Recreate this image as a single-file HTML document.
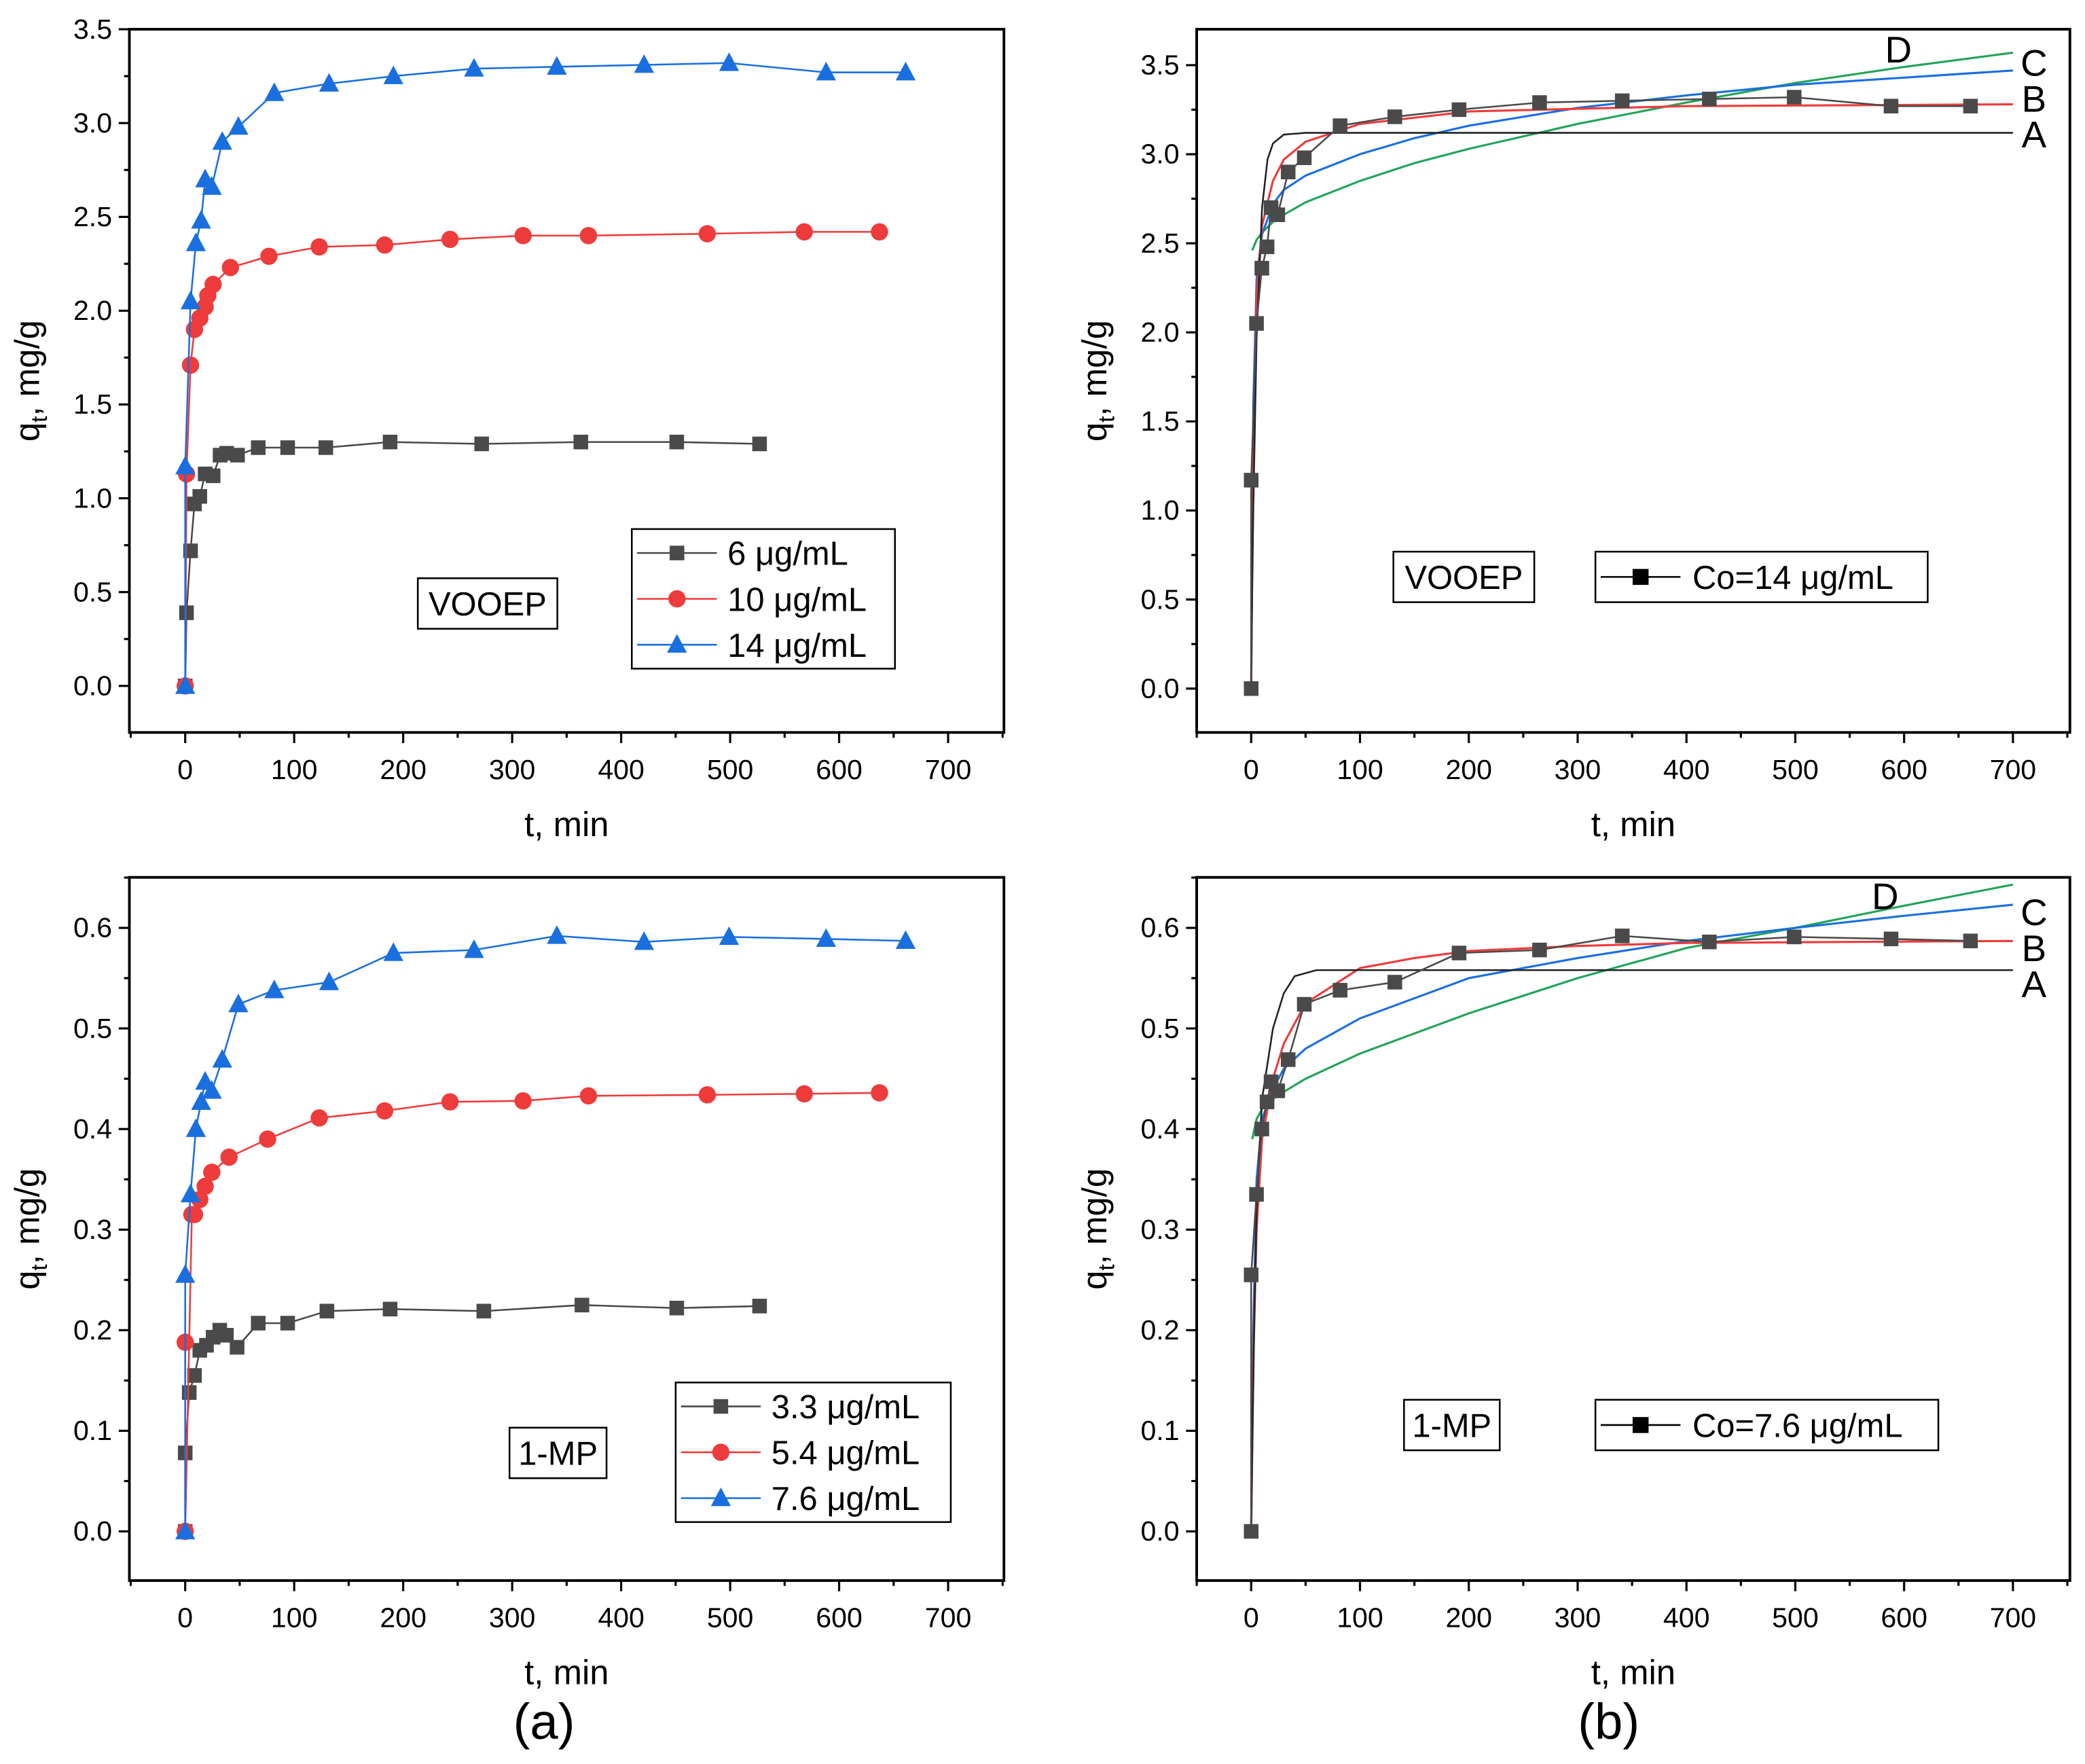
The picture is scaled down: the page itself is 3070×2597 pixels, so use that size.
<!DOCTYPE html>
<html><head><meta charset="utf-8"><style>
html,body{margin:0;padding:0;background:#fff}
svg{display:block;font-family:"Liberation Sans",Arial,sans-serif}
</style></head><body>
<svg id="fig" width="3070" height="2597" viewBox="0 0 1568 1327" xmlns="http://www.w3.org/2000/svg">
<rect width="1568" height="1327" fill="#fff"/>
</svg>
<script>
// ---- data: panel a top (VOOEP) ----
const tA_black=[0,1.2,4.9,8.5,13.4,18.3,25.6,32,38,48,67,94,129,188,272,363,451,527];
const qA_black=[0,0.39,0.72,0.97,1.01,1.13,1.12,1.23,1.24,1.23,1.27,1.27,1.27,1.30,1.29,1.30,1.30,1.29];
const tA_red=[0,1.2,4.9,8.5,13.4,18.3,20.7,25.6,41.5,76.8,123,183,243,310,370,479,568,637];
const qA_red=[0,1.13,1.71,1.90,1.96,2.02,2.08,2.14,2.23,2.29,2.34,2.35,2.38,2.40,2.40,2.41,2.42,2.42];
const tA_blue=[0,0,4.9,9.8,14.6,18.3,24.4,34,48.8,81.7,132,191,265,341,421,499,588,661];
const qA_blue=[0,1.17,2.05,2.36,2.48,2.70,2.66,2.90,2.98,3.16,3.21,3.25,3.29,3.30,3.31,3.32,3.27,3.27];
// ---- panel a bottom (1-MP) ----
const tB_black=[0,0,3.7,8.5,13.4,19.5,25.6,31.7,37.8,47.6,67,94,130,188,274,364,451,527];
const qB_black=[0,0.078,0.138,0.155,0.18,0.185,0.193,0.20,0.195,0.183,0.207,0.207,0.219,0.221,0.219,0.225,0.222,0.224];
const tB_red=[0,0,6.1,8.5,13.4,18.3,24.4,40.2,75.6,123,183,243,310,370,479,568,637];
const qB_red=[0.188,0,0.315,0.315,0.33,0.343,0.357,0.372,0.39,0.411,0.418,0.427,0.428,0.433,0.434,0.435,0.436];
const tB_blue=[0,0,4.9,9.8,14.6,18.3,24.4,34,48.8,81.7,132,191,265,341,421,499,588,661];
const qB_blue=[0,0.255,0.335,0.40,0.427,0.447,0.438,0.469,0.524,0.538,0.546,0.575,0.578,0.592,0.586,0.591,0.589,0.587];
// ---- model curves ----
const tM_A1=[0,1,2,5,10,15,20,30,50,700];
const qM_A1=[0,0.57,1.03,1.97,2.70,2.97,3.06,3.11,3.12,3.12];
const tM_B1=[0,1,5,10,20,30,50,100,200,400,700];
const qM_B1=[0,1.0,2.2,2.6,2.85,2.97,3.07,3.17,3.24,3.27,3.28];
const tM_C1=[0,2,5,10,20,30,50,100,150,200,300,400,500,600,700];
const qM_C1=[0,1.6,2.3,2.55,2.72,2.80,2.88,3.0,3.09,3.16,3.26,3.33,3.39,3.43,3.47];
const tM_D1=[1,5,10,20,30,50,100,150,200,300,400,500,600,700];
const qM_D1=[2.46,2.52,2.56,2.62,2.66,2.73,2.85,2.95,3.03,3.17,3.29,3.40,3.49,3.57];
const tM_A2=[0,1,3,5,10,20,30,40,60,700];
const qM_A2=[0,0.08,0.22,0.32,0.43,0.50,0.535,0.552,0.558,0.558];
const tM_B2=[0,2,5,10,20,30,50,100,150,200,300,400,700];
const qM_B2=[0,0.17,0.30,0.39,0.45,0.485,0.525,0.56,0.57,0.577,0.582,0.585,0.587];
const tM_C2=[0,2,5,10,20,30,50,100,150,200,300,400,500,600,700];
const qM_C2=[0,0.2,0.35,0.41,0.44,0.46,0.48,0.51,0.53,0.55,0.57,0.587,0.60,0.612,0.623];
const tM_D2=[1,5,10,20,30,50,100,150,200,300,400,500,600,700];
const qM_D2=[0.39,0.41,0.42,0.43,0.437,0.45,0.475,0.495,0.515,0.55,0.58,0.60,0.622,0.643];
const xTicks=[0,100,200,300,400,500,600,700];
const yTicksTop=["0.0","0.5","1.0","1.5","2.0","2.5","3.0","3.5"];
const yTicksBot=["0.0","0.1","0.2","0.3","0.4","0.5","0.6"];

const NS="http://www.w3.org/2000/svg";
const svg=document.getElementById('fig');
function mk(tag,attrs,parent){const e=document.createElementNS(NS,tag);for(const k in attrs)e.setAttribute(k,attrs[k]);(parent||svg).appendChild(e);return e;}
const BLK="#4a4a4a",RED="#ee3b3b",BLU="#1a6fdf",GRN="#22a45a";

function panel(name,L,R,T,B,x0px,y0px,yTopVal,yTopPx,yLabels,yStep){
  const g=mk('g',{});
  
  
  const sx=v=>x0px+v*(713-139)/700*((R-L)/(755-97));
  const sy=v=>y0px-(v/yTopVal)*(y0px-yTopPx);
  const r=mk('rect',{x:L,y:T,width:R-L,height:B-T,fill:'none',stroke:'#000','stroke-width':2},g);
  
  for(let v=-50;v<=750;v+=50){const px=sx(v);if(px<L-0.5||px>R+0.5)continue;const major=v%100===0;
    mk('line',{x1:px,y1:B,x2:px,y2:B+(major?8:4),stroke:'#000','stroke-width':1.6},g);}
  xTicks.forEach(v=>{const t=mk('text',{x:sx(v),y:B+35,'font-size':21,'text-anchor':'middle'},g);t.textContent=v;
    });
  yLabels.forEach((lab,i)=>{const v=i*yStep;const py=sy(v);
    mk('line',{x1:L,y1:py,x2:L-8,y2:py,stroke:'#000','stroke-width':1.6},g);
    const pm=sy(v+yStep/2);if(pm>T)mk('line',{x1:L,y1:pm,x2:L-4,y2:pm,stroke:'#000','stroke-width':1.6},g);
    const pb=sy(v-yStep/2);if(i===0&&pb<B)mk('line',{x1:L,y1:pb,x2:L-4,y2:pb,stroke:'#000','stroke-width':1.6},g);
    const t=mk('text',{x:L-13,y:py+7,'font-size':21,'text-anchor':'end'},g);t.textContent=lab;
    });
  const xt=mk('text',{x:(L+R)/2,y:B+78,'font-size':26,'text-anchor':'middle'},g);xt.textContent='t, min';
  
  const yt=mk('text',{transform:`translate(${L-68},${(T+B)/2}) rotate(-90)`,'font-size':26,'text-anchor':'middle'},g);
  yt.innerHTML='q<tspan font-size="17" dy="6">t</tspan><tspan dy="-6">, mg/g</tspan>';
  
  return {g,sx,sy};
}
function line(P,ts,qs,color,w,name){const pts=ts.map((t,i)=>P.sx(t).toFixed(2)+','+P.sy(qs[i]).toFixed(2)).join(' ');
  const l=mk('polyline',{points:pts,fill:'none',stroke:color,'stroke-width':w},P.g);
  }
function marker(g,x,y,shape,color){let m;
  if(shape==='sq')m=mk('rect',{x:x-5.5,y:y-5.5,width:11,height:11,fill:color},g);
  else if(shape==='ci')m=mk('circle',{cx:x,cy:y,r:6.5,fill:color},g);
  else m=mk('polygon',{points:`${x},${y-8} ${x-7.5},${y+6} ${x+7.5},${y+6}`,fill:color},g);
  return m;}
function series(P,ts,qs,color,shape,name){line(P,ts,qs,color,1.3,name+'-line');
  ts.forEach((t,i)=>{const m=marker(P.g,P.sx(t),P.sy(qs[i]),shape,color);
    
    });}
function box(g,x,y,w,h,text,name,fs){const r=mk('rect',{x,y,width:w,height:h,fill:'#fff',stroke:'#000','stroke-width':1.3},g);
  
  const t=mk('text',{x:x+w/2,y:y+h/2+9,'font-size':fs||25,'text-anchor':'middle'},g);t.textContent=text;}
function legend(g,x,y,w,h,entries){const r=mk('rect',{x,y,width:w,height:h,fill:'#fff',stroke:'#000','stroke-width':1.3},g);
  
  entries.forEach((e,i)=>{const cy=y+18+i*34.5;
    const le=mk('g',{},g);
    mk('line',{x1:x+4,y1:cy,x2:x+64,y2:cy,stroke:e[1],'stroke-width':1.3},le);marker(le,x+34,cy,e[2],e[1]);
    const t=mk('text',{x:x+72,y:cy+9,'font-size':25},le);t.textContent=e[0];});}

const P1=panel('panel-a-vooep',97,755,22,551,139,516,3.5,22,yTicksTop,0.5);
series(P1,tA_black,qA_black,BLK,'sq','series-6');
series(P1,tA_red,qA_red,RED,'ci','series-10');
series(P1,tA_blue,qA_blue,BLU,'tr','series-14');
box(P1.g,314,435,105,38,'VOOEP','sample-label');
legend(P1.g,475,398,198,105,[['6 μg/mL',BLK,'sq'],['10 μg/mL',RED,'ci'],['14 μg/mL',BLU,'tr']]);
const P2=panel('panel-b-vooep',900,1557,22,551,941,518,3.5,49,yTicksTop,0.5);
line(P2,tM_D1,qM_D1,GRN,1.6,'model-d');line(P2,tM_C1,qM_C1,BLU,1.6,'model-c');
line(P2,tM_B1,qM_B1,RED,1.6,'model-b');line(P2,tM_A1,qM_A1,'#222',1.3,'model-a');
series(P2,tA_blue,qA_blue,BLK,'sq','experimental');
[['D',1428,37],['C',1530,47],['B',1530,74],['A',1530,101]].forEach(a=>{const t=mk('text',{x:a[1],y:a[2]+10,'font-size':28,'text-anchor':'middle'},P2.g);t.textContent=a[0];
  });
box(P2.g,1048,415,106,38,'VOOEP','sample-label');
legend(P2.g,1200,415,250,38,[]);
(function(){const g=P2.g;mk('line',{x1:1204,y1:434,x2:1264,y2:434,stroke:'#000','stroke-width':1.3},g);
  mk('rect',{x:1228,y:428,width:12,height:12,fill:'#000'},g);const t=mk('text',{x:1273,y:443,'font-size':25},g);t.textContent='Co=14 μg/mL';})();
const P3=panel('panel-a-1mp',97,755,660,1189,139,1152,0.6,698,yTicksBot,0.1);
series(P3,tB_black,qB_black,BLK,'sq','series-3-3');
series(P3,tB_red,qB_red,RED,'ci','series-5-4');
series(P3,tB_blue,qB_blue,BLU,'tr','series-7-6');
box(P3.g,383,1074,73,38,'1-MP','sample-label');
legend(P3.g,508,1040,207,105,[['3.3 μg/mL',BLK,'sq'],['5.4 μg/mL',RED,'ci'],['7.6 μg/mL',BLU,'tr']]);
const P4=panel('panel-b-1mp',900,1557,660,1189,941,1152,0.6,698,yTicksBot,0.1);
line(P4,tM_D2,qM_D2,GRN,1.6,'model-d');line(P4,tM_C2,qM_C2,BLU,1.6,'model-c');
line(P4,tM_B2,qM_B2,RED,1.6,'model-b');line(P4,tM_A2,qM_A2,'#222',1.3,'model-a');
series(P4,tB_blue,qB_blue,BLK,'sq','experimental');
[['D',1418,674],['C',1530,686],['B',1530,713],['A',1530,740]].forEach(a=>{const t=mk('text',{x:a[1],y:a[2]+10,'font-size':28,'text-anchor':'middle'},P4.g);t.textContent=a[0];
  });
box(P4.g,1056,1053,72,38,'1-MP','sample-label');
legend(P4.g,1200,1053,258,38,[]);
(function(){const g=P4.g;mk('line',{x1:1204,y1:1072,x2:1264,y2:1072,stroke:'#000','stroke-width':1.3},g);
  mk('rect',{x:1228,y:1066,width:12,height:12,fill:'#000'},g);const t=mk('text',{x:1273,y:1081,'font-size':25},g);t.textContent='Co=7.6 μg/mL';})();
[['(a)',409],['(b)',1210]].forEach(a=>{const t=mk('text',{x:a[1],y:1308,'font-size':38,'text-anchor':'middle'});t.textContent=a[0];
  });
</script>
</body></html>
